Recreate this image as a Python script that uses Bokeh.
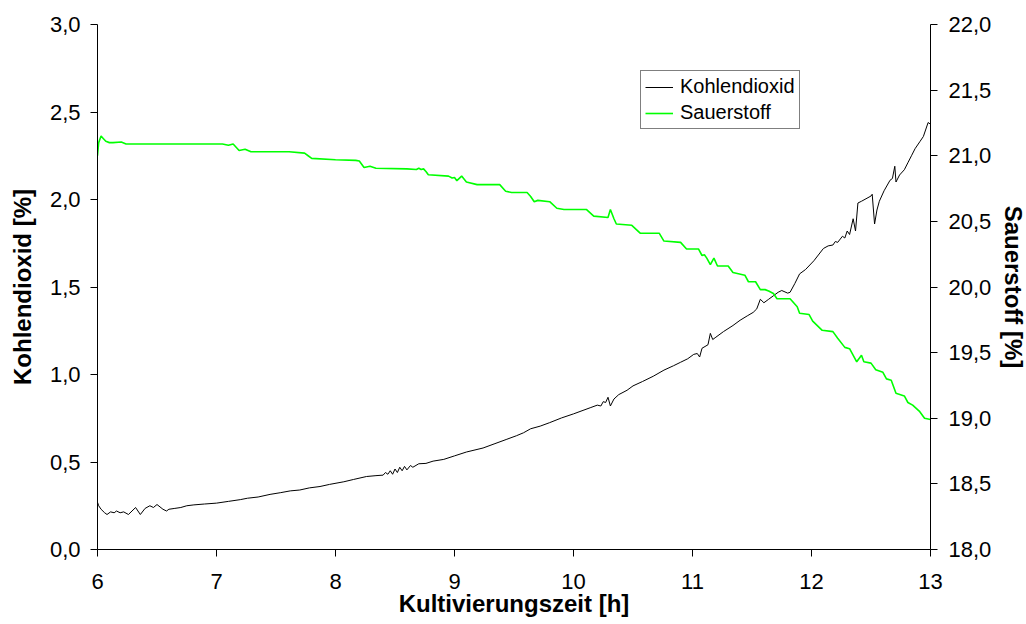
from bokeh.plotting import figure
from bokeh.models import Range1d, LinearAxis, FixedTicker, CustomJSTickFormatter, Legend, LegendItem
from bokeh.embed import file_html
from bokeh.resources import INLINE

# ---- data ----
co2_t = [6.00, 6.01, 6.03, 6.06, 6.08, 6.11, 6.14, 6.16, 6.19, 6.22, 6.26, 6.29, 6.32, 6.36, 6.40,
         6.44, 6.47, 6.50, 6.55, 6.58, 6.60, 6.65, 6.70, 6.75, 6.81, 6.90, 7.00, 7.10, 7.20, 7.26,
         7.35, 7.45, 7.54, 7.62, 7.70, 7.78, 7.87, 7.95, 8.07, 8.15, 8.26, 8.34, 8.40, 8.42, 8.44,
         8.46, 8.48, 8.50, 8.52, 8.54, 8.56, 8.58, 8.60, 8.63, 8.65, 8.70, 8.76, 8.82, 8.91, 9.00,
         9.10, 9.24, 9.34, 9.44, 9.52, 9.58, 9.64, 9.72, 9.80, 9.90, 10.00, 10.08, 10.14, 10.20,
         10.23, 10.25, 10.27, 10.29, 10.31, 10.34, 10.38, 10.45, 10.50, 10.58, 10.67, 10.76, 10.84,
         10.90, 10.96, 11.01, 11.04, 11.06, 11.08, 11.13, 11.15, 11.17, 11.19, 11.26, 11.34, 11.40,
         11.46, 11.51, 11.54, 11.57, 11.60, 11.64, 11.68, 11.72, 11.75, 11.80, 11.82, 11.86, 11.90,
         11.95, 12.02, 12.10, 12.14, 12.18, 12.20, 12.22, 12.26, 12.28, 12.30, 12.32, 12.35, 12.37,
         12.39, 12.42, 12.50, 12.51, 12.53, 12.55, 12.57, 12.61, 12.66, 12.68, 12.70, 12.71, 12.74,
         12.78, 12.81, 12.84, 12.87, 12.91, 12.94, 12.98, 13.00]
co2_v = [0.27, 0.25, 0.23, 0.21, 0.20, 0.215, 0.21, 0.22, 0.21, 0.215, 0.20, 0.22, 0.24, 0.20, 0.235,
         0.25, 0.24, 0.257, 0.23, 0.22, 0.23, 0.235, 0.24, 0.25, 0.255, 0.26, 0.265, 0.275, 0.285, 0.293,
         0.30, 0.315, 0.325, 0.335, 0.34, 0.352, 0.36, 0.372, 0.387, 0.40, 0.417, 0.422, 0.425, 0.44, 0.43,
         0.45, 0.43, 0.46, 0.44, 0.47, 0.45, 0.475, 0.455, 0.48, 0.47, 0.49, 0.492, 0.505, 0.515, 0.535,
         0.557, 0.58, 0.605, 0.63, 0.65, 0.667, 0.69, 0.705, 0.725, 0.752, 0.775, 0.795, 0.81, 0.825,
         0.82, 0.845, 0.84, 0.87, 0.82, 0.86, 0.885, 0.91, 0.935, 0.96, 0.99, 1.025, 1.05,
         1.07, 1.09, 1.115, 1.12, 1.10, 1.15, 1.17, 1.235, 1.20, 1.21, 1.245, 1.28, 1.31,
         1.335, 1.355, 1.375, 1.43, 1.41, 1.43, 1.45, 1.47, 1.48, 1.465, 1.47, 1.52, 1.575,
         1.60, 1.65, 1.72, 1.735, 1.74, 1.76, 1.755, 1.79, 1.78, 1.82, 1.80, 1.89, 1.82,
         1.98, 1.99, 2.02, 2.03, 1.86, 1.94, 1.99, 2.05, 2.11, 2.12, 2.19, 2.10, 2.14,
         2.17, 2.21, 2.25, 2.29, 2.33, 2.36, 2.44, 2.43]

o2_t = [6.00, 6.01, 6.03, 6.05, 6.07, 6.10, 6.13, 6.20, 6.24, 6.50, 6.80, 7.05, 7.10, 7.14, 7.19,
        7.24, 7.29, 7.45, 7.61, 7.74, 7.77, 7.80, 8.00, 8.17, 8.20, 8.24, 8.29, 8.34, 8.60, 8.68,
        8.70, 8.72, 8.74, 8.76, 8.78, 8.95, 8.98, 9.00, 9.02, 9.06, 9.10, 9.19, 9.38, 9.43, 9.48,
        9.61, 9.64, 9.67, 9.70, 9.80, 9.86, 9.92, 10.11, 10.17, 10.29, 10.31, 10.34, 10.36, 10.49,
        10.56, 10.72, 10.76, 10.90, 10.95, 11.05, 11.08, 11.10, 11.12, 11.15, 11.18, 11.21, 11.30,
        11.34, 11.44, 11.47, 11.53, 11.57, 11.61, 11.64, 11.68, 11.71, 11.82, 11.88, 11.90, 11.98,
        12.01, 12.09, 12.18, 12.22, 12.28, 12.32, 12.38, 12.42, 12.44, 12.50, 12.54, 12.60, 12.63,
        12.67, 12.71, 12.78, 12.81, 12.85, 12.91, 12.95, 13.00]
o2_v = [21.00, 21.10, 21.15, 21.13, 21.11, 21.10, 21.10, 21.105, 21.09, 21.09, 21.09, 21.09, 21.08, 21.09, 21.04,
        21.05, 21.03, 21.03, 21.03, 21.02, 21.00, 20.98, 20.97, 20.965, 20.96, 20.91, 20.92, 20.905, 20.90, 20.895,
        20.905, 20.895, 20.90, 20.88, 20.855, 20.845, 20.83, 20.835, 20.81, 20.845, 20.80, 20.78, 20.78, 20.73, 20.72,
        20.72, 20.69, 20.65, 20.66, 20.65, 20.60, 20.59, 20.59, 20.54, 20.53, 20.59, 20.52, 20.48, 20.47,
        20.41, 20.41, 20.35, 20.34, 20.29, 20.29, 20.24, 20.245, 20.22, 20.17, 20.22, 20.16, 20.16,
        20.11, 20.09, 20.04, 20.04, 19.98, 19.98, 19.97, 19.95, 19.91, 19.91, 19.85, 19.80, 19.79,
        19.74, 19.67, 19.66, 19.61, 19.54, 19.53, 19.43, 19.48, 19.43, 19.42, 19.37, 19.35, 19.30,
        19.29, 19.19, 19.17, 19.12, 19.10, 19.05, 19.00, 18.99]

x_ticks = [6, 7, 8, 9, 10, 11, 12, 13]
left_ticks = [0.0, 0.5, 1.0, 1.5, 2.0, 2.5, 3.0]
right_ticks = [18.0, 18.5, 19.0, 19.5, 20.0, 20.5, 21.0, 21.5, 22.0]

series_names = ["Kohlendioxid", "Sauerstoff"]
x_label = "Kultivierungszeit [h]"
left_label = "Kohlendioxid [%]"
right_label = "Sauerstoff [%]"

FONT = "Liberation Sans"

p = figure(frame_width=833, frame_height=525, output_backend="svg", toolbar_location=None,
           x_range=Range1d(6, 13), y_range=Range1d(0, 3),
           min_border_left=97, min_border_right=96, min_border_top=24, min_border_bottom=75)
p.extra_y_ranges = {"o2": Range1d(18, 22)}
p.outline_line_color = None
p.xgrid.visible = False
p.ygrid.visible = False
p.background_fill_color = "white"
p.border_fill_color = "white"

comma_fmt = CustomJSTickFormatter(code="return tick.toFixed(1).replace('.', ',');")
int_fmt = CustomJSTickFormatter(code="return tick.toFixed(0);")

def style_axis(ax):
    ax.axis_line_color = "black"
    ax.axis_line_width = 1
    ax.major_tick_line_color = "black"
    ax.major_tick_in = 0
    ax.major_tick_out = 7
    ax.minor_tick_line_color = None
    ax.major_label_text_font = FONT
    ax.major_label_text_font_size = "22px"
    ax.major_label_text_color = "black"
    ax.axis_label_text_font = FONT
    ax.axis_label_text_font_size = "24px"
    ax.axis_label_text_font_style = "bold"
    ax.axis_label_text_color = "black"

xa = p.xaxis[0]
style_axis(xa)
xa.ticker = FixedTicker(ticks=x_ticks)
xa.formatter = int_fmt
xa.axis_label = x_label
xa.major_label_standoff = 17
xa.axis_label_standoff = -2

ya = p.yaxis[0]
style_axis(ya)
ya.ticker = FixedTicker(ticks=left_ticks)
ya.formatter = comma_fmt
ya.axis_label = left_label
ya.major_label_standoff = 10
ya.axis_label_standoff = 11

ra = LinearAxis(y_range_name="o2")
style_axis(ra)
ra.ticker = FixedTicker(ticks=right_ticks)
ra.formatter = comma_fmt
ra.axis_label = right_label
ra.major_label_standoff = 11
ra.axis_label_standoff = 6
p.add_layout(ra, "right")

r1 = p.line(co2_t, co2_v, line_color="black", line_width=1)
r2 = p.line(o2_t, o2_v, line_color="#00ff00", line_width=1.6, y_range_name="o2")

legend = Legend(items=[LegendItem(label=series_names[0], renderers=[r1]),
                       LegendItem(label=series_names[1], renderers=[r2])],
                location=(543, 420), orientation="vertical")
legend.label_text_font = FONT
legend.label_text_font_size = "20px"
legend.label_text_color = "black"
legend.border_line_color = "black"
legend.border_line_width = 1
legend.background_fill_color = "white"
legend.background_fill_alpha = 1
legend.padding = 4
legend.spacing = 3
legend.margin = 0
legend.glyph_width = 28
legend.glyph_height = 20
legend.label_height = 20
legend.label_standoff = 7
p.add_layout(legend, "center")

open("out.html", "w").write(file_html(p, INLINE))
